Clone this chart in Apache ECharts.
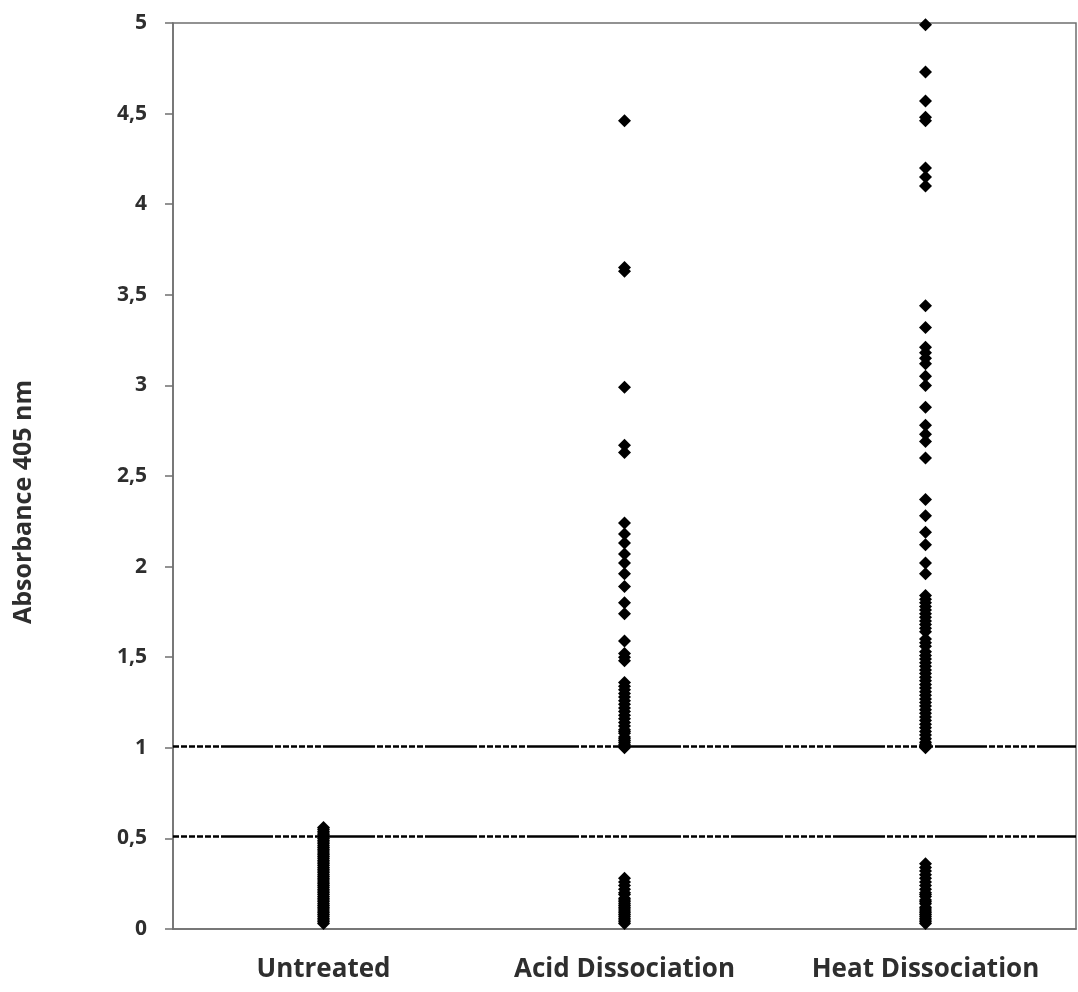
<!DOCTYPE html>
<html style="height: 100%">
<head>
<meta charset="utf-8">
</head>
<body style="height: 100%; margin: 0; background: #fff">
<div id="container" style="width: 1078px; height: 992px"></div>
<script type="text/javascript" src="https://cdn.jsdelivr.net/npm/echarts/dist/echarts.min.js"></script>
<script type="text/javascript">
// groups on the x axis
var groups = ['Untreated', 'Acid Dissociation', 'Heat Dissociation'];

// absorbance readings per group
var untreated = [0.56, 0.55, 0.54, 0.53, 0.52, 0.51, 0.50, 0.49, 0.48, 0.47, 0.46, 0.45,
    0.44, 0.43, 0.42, 0.41, 0.40, 0.39, 0.38, 0.37, 0.36, 0.35, 0.34, 0.33, 0.32, 0.31,
    0.30, 0.29, 0.28, 0.27, 0.26, 0.25, 0.24, 0.23, 0.22, 0.21, 0.20, 0.19, 0.18, 0.17,
    0.16, 0.15, 0.14, 0.13, 0.12, 0.11, 0.10, 0.09, 0.08, 0.07, 0.06, 0.05, 0.04, 0.03];

var acid = [4.46, 3.65, 3.63, 2.99, 2.67, 2.63, 2.24, 2.18, 2.13, 2.07, 2.02, 1.96, 1.89,
    1.80, 1.74, 1.59, 1.52, 1.50, 1.48, 1.36, 1.34, 1.32, 1.30, 1.28, 1.26, 1.24, 1.22,
    1.20, 1.18, 1.16, 1.14, 1.12, 1.10, 1.09, 1.08, 1.06, 1.05, 1.04, 1.03, 1.02, 1.01,
    1.00, 0.28, 0.26, 0.24, 0.22, 0.20, 0.19, 0.17, 0.16, 0.15, 0.14, 0.13, 0.12, 0.11,
    0.10, 0.09, 0.08, 0.07, 0.06, 0.05, 0.04, 0.03];

var heat = [4.99, 4.73, 4.57, 4.48, 4.46, 4.20, 4.15, 4.10, 3.44, 3.32, 3.21, 3.18, 3.15,
    3.12, 3.05, 3.00, 2.88, 2.78, 2.73, 2.69, 2.60, 2.37, 2.28, 2.19, 2.12, 2.02, 1.96,
    1.84, 1.82, 1.80, 1.78, 1.76, 1.74, 1.72, 1.70, 1.68, 1.66, 1.64, 1.60, 1.58, 1.56,
    1.53, 1.51, 1.49, 1.47, 1.45, 1.43, 1.41, 1.39, 1.37, 1.35, 1.33, 1.31, 1.29, 1.27,
    1.25, 1.23, 1.21, 1.19, 1.17, 1.15, 1.13, 1.11, 1.09, 1.07, 1.05, 1.03, 1.02, 1.01,
    1.00, 0.36, 0.34, 0.32, 0.30, 0.28, 0.26, 0.24, 0.22, 0.20, 0.19, 0.18, 0.16, 0.15,
    0.14, 0.12, 0.11, 0.10, 0.09, 0.08, 0.07, 0.06, 0.05, 0.04, 0.03];

// cut-off lines
var cutoffs = [1.01, 0.505];

var yTicks = { min: 0, max: 5, step: 0.5 };

var dom = document.getElementById('container');
var myChart = echarts.init(dom, null, { renderer: 'canvas' });

function toPoints(idx, arr) {
    return arr.map(function (v) { return [idx, v]; });
}

var dotStyle = { color: '#000', opacity: 1 };
var textColor = '#2e2e2e';
var fontName = 'Open Sans';
var dotSize = 13;

var option = {
    animation: false,
    backgroundColor: '#fff',
    grid: {
        left: 173,
        right: 2,
        top: 23,
        bottom: 63,
        show: true,
        borderColor: '#6f6f6f',
        borderWidth: 1.5
    },
    xAxis: {
        type: 'category',
        data: groups,
        boundaryGap: true,
        axisLine: { lineStyle: { color: '#6f6f6f', width: 1.5 } },
        axisTick: { show: false },
        axisLabel: {
            color: textColor,
            fontFamily: fontName,
            fontWeight: 'bold',
            fontSize: 26,
            margin: 28
        },
        splitLine: { show: false }
    },
    yAxis: {
        type: 'value',
        min: yTicks.min,
        max: yTicks.max,
        interval: yTicks.step,
        axisLine: { show: true, lineStyle: { color: '#6f6f6f', width: 1.5 } },
        axisTick: { show: true, length: 8, lineStyle: { color: '#6f6f6f', width: 1.5 } },
        axisLabel: {
            color: textColor,
            fontFamily: fontName,
            fontWeight: 'bold',
            fontSize: 21,
            margin: 26,
            formatter: function (v) { return String(v).replace('.', ','); }
        },
        splitLine: { show: false }
    },
    series: [
        {
            name: groups[0],
            type: 'scatter',
            symbol: 'diamond',
            symbolSize: dotSize,
            itemStyle: dotStyle,
            data: toPoints(0, untreated),
            z: 3,
            markLine: {
                silent: true,
                symbol: 'none',
                label: { show: false },
                lineStyle: {
                    color: '#000',
                    width: 2.5,
                    opacity: 1,
                    type: [6, 2, 6, 2, 6, 2, 6, 2, 6, 2, 6, 2, 52, 2]
                },
                data: cutoffs.map(function (c) { return { yAxis: c }; })
            }
        },
        {
            name: groups[1],
            type: 'scatter',
            symbol: 'diamond',
            symbolSize: dotSize,
            itemStyle: dotStyle,
            data: toPoints(1, acid),
            z: 3
        },
        {
            name: groups[2],
            type: 'scatter',
            symbol: 'diamond',
            symbolSize: dotSize,
            itemStyle: dotStyle,
            data: toPoints(2, heat),
            z: 3
        }
    ],
    graphic: [
        {
            type: 'text',
            x: 24,
            y: 502,
            rotation: Math.PI / 2,
            style: {
                text: 'Absorbance 405 nm',
                x: 0,
                y: 0,
                align: 'center',
                verticalAlign: 'middle',
                fill: textColor,
                font: 'bold 25px "Open Sans"'
            }
        }
    ]
};

myChart.setOption(option, true);
</script>
</body>
</html>
